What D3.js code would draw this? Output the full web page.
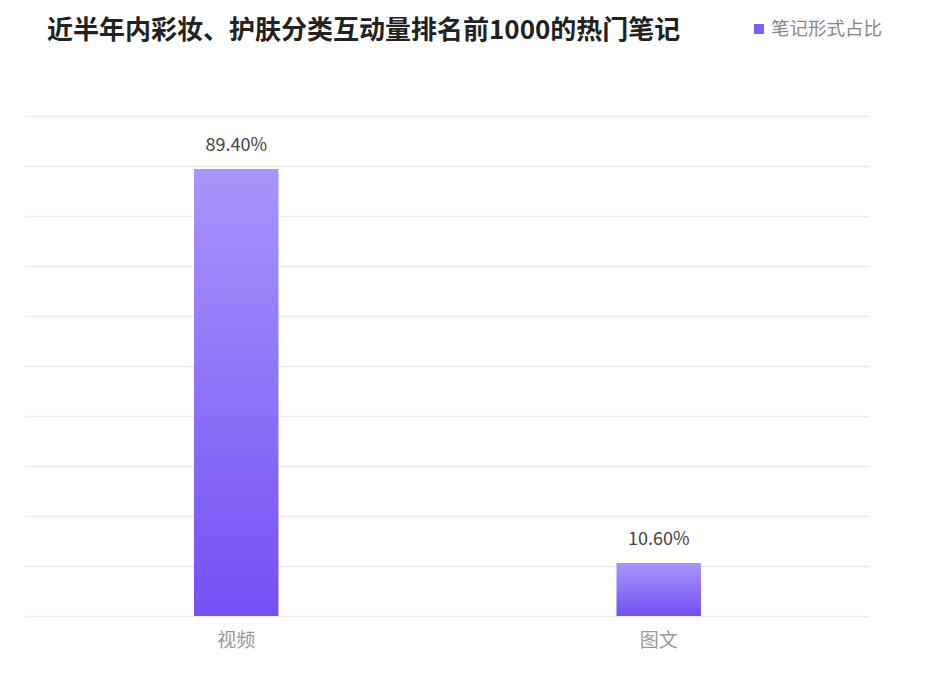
<!DOCTYPE html>
<html>
<head>
<meta charset="utf-8">
<title>笔记形式占比</title>
<script src="https://d3js.org/d3.v7.min.js"></script>
<style>
  body { margin: 0; background: #fff; }
  text { font-family: "Noto Sans CJK SC", "Noto Sans", sans-serif; }
</style>
</head>
<body>
<script>
// 数据
var categories = ['视频', '图文'];
var values = [89.4, 10.6];
var yTicks = [0, 10, 20, 30, 40, 50, 60, 70, 80, 90, 100];
var seriesName = '笔记形式占比';
var title = '近半年内彩妆、护肤分类互动量排名前1000的热门笔记';

var width = 930, height = 695;
var margin = { top: 116, right: 60, bottom: 79, left: 25 };

var svg = d3.select('body').append('svg')
  .attr('width', width)
  .attr('height', height);

var defs = svg.append('defs');
var grad = defs.append('linearGradient')
  .attr('id', 'barGrad')
  .attr('x1', 0).attr('y1', 0).attr('x2', 0).attr('y2', 1);
grad.append('stop').attr('offset', '0%').attr('stop-color', '#a995fb');
grad.append('stop').attr('offset', '100%').attr('stop-color', '#7350f4');

var x = d3.scaleBand()
  .domain(categories)
  .range([margin.left, width - margin.right])
  .paddingInner(0.8)
  .paddingOuter(0.4);

var y = d3.scaleLinear()
  .domain([0, 100])
  .range([height - margin.bottom, margin.top]);

// 网格线
svg.append('g')
  .selectAll('line')
  .data(yTicks)
  .enter()
  .append('line')
  .attr('x1', margin.left)
  .attr('x2', width - margin.right)
  .attr('y1', function(d) { return y(d) + 0.5; })
  .attr('y2', function(d) { return y(d) + 0.5; })
  .attr('stroke', '#ececec')
  .attr('stroke-width', 1.5);

// 柱子
svg.append('g')
  .selectAll('rect')
  .data(values)
  .enter()
  .append('rect')
  .attr('x', function(d, i) { return x(categories[i]); })
  .attr('y', function(d) { return y(d); })
  .attr('width', x.bandwidth())
  .attr('height', function(d) { return y(0) - y(d); })
  .attr('fill', 'url(#barGrad)');

// 数值标签
svg.append('g')
  .selectAll('text')
  .data(values)
  .enter()
  .append('text')
  .attr('x', function(d, i) { return x(categories[i]) + x.bandwidth() / 2; })
  .attr('y', function(d) { return y(d) - 18; })
  .attr('text-anchor', 'middle')
  .attr('font-size', '18px')
  .attr('fill', '#444')
  .text(function(d) { return d.toFixed(2) + '%'; });

// x 轴
var xAxis = svg.append('g')
  .attr('transform', 'translate(0,' + (height - margin.bottom) + ')')
  .call(d3.axisBottom(x).tickSize(0).tickPadding(18));
xAxis.select('.domain').remove();
xAxis.selectAll('text')
  .attr('font-size', '19px')
  .attr('fill', '#999')
  .style('font-family', '"Noto Sans CJK SC", sans-serif');

// 标题
svg.append('text')
  .attr('x', 47)
  .attr('y', 39)
  .attr('font-size', '26px')
  .attr('font-weight', 'bold')
  .attr('fill', '#222')
  .text(title);

// 图例
var legend = svg.append('g').attr('transform', 'translate(754,23)');
legend.append('rect')
  .attr('width', 10).attr('height', 10)
  .attr('y', 1)
  .attr('fill', '#7d60f5');
legend.append('text')
  .attr('x', 17)
  .attr('y', 12)
  .attr('font-size', '18.5px')
  .attr('fill', '#888')
  .text(seriesName);
</script>
</body>
</html>
